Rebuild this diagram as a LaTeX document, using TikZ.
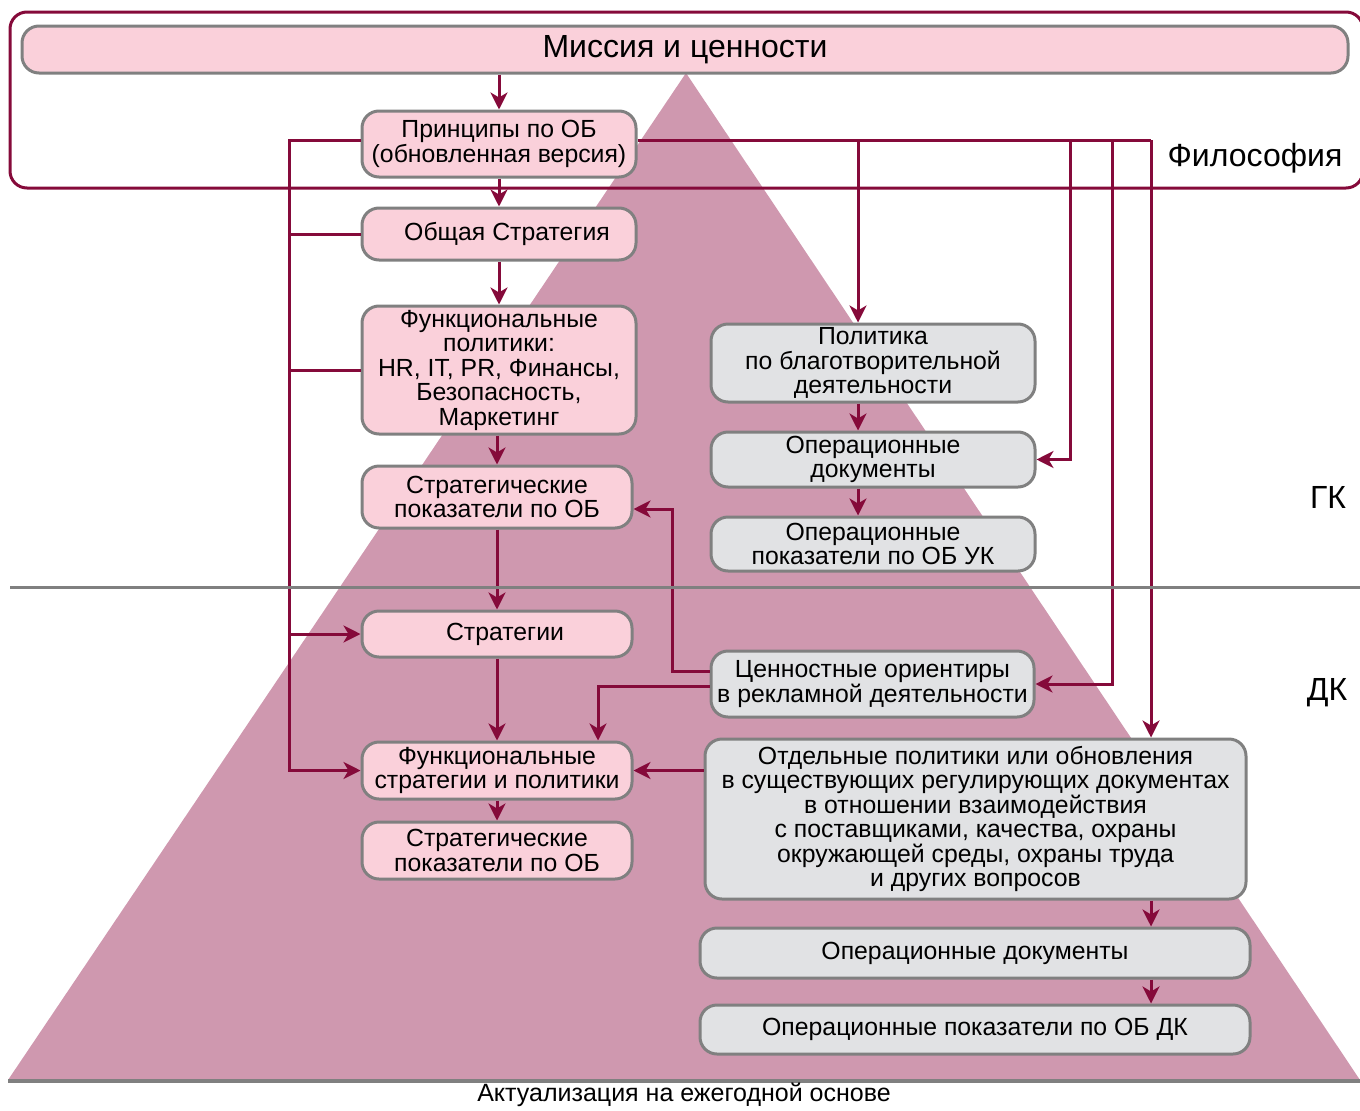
\documentclass[tikz,border=0pt]{standalone}
\usepackage{fontspec}
\setmainfont{Liberation Sans}
\usetikzlibrary{arrows.meta,calc}
\definecolor{crim}{HTML}{850A3A}
\definecolor{pinkfill}{HTML}{FAD0DA}
\definecolor{grayfill}{HTML}{E1E2E4}
\definecolor{bordgray}{HTML}{808080}
\definecolor{trifill}{HTML}{CF98AF}
\tikzset{
  boxbase/.style={draw=bordgray, line width=3pt, rounded corners=17pt, align=center, inner sep=0pt,
    font=\fontsize{24.8}{24.5}\selectfont},
  pinkbox/.style={boxbase, fill=pinkfill},
  graybox/.style={boxbase, fill=grayfill},
  conn/.style={draw=crim, line width=3pt},
  arr/.style={conn, -{Stealth[length=17pt,width=17pt,inset=5pt]}},
  biglabel/.style={font=\fontsize{32}{34}\selectfont, inner sep=0pt},
}
\begin{document}
\begin{tikzpicture}[x=1pt,y=-1pt]
\useasboundingbox (0,0) rectangle (1360,1111);
% pyramid
\fill[trifill] (686,73) -- (1360,1080) -- (8,1080) -- cycle;
\draw[bordgray, line width=4pt] (8,1081) -- (1360,1081);
% philosophy frame
\begin{scope}
\clip (0,0) rectangle (1360,1111);
\draw[crim, line width=3pt, rounded corners=17pt] (10,12) rectangle (1363,188);
\end{scope}
% nodes
\node[pinkbox, minimum width=1326pt, minimum height=47pt, font=\fontsize{32}{34}\selectfont] (mis) at (685,49.5) {Миссия и ценности};
\node[pinkbox, minimum width=274pt, minimum height=66pt] (pri) at (499,144) {Принципы по ОБ\\(обновленная версия)};
\node[pinkbox, minimum width=274pt, minimum height=52pt] (obs) at (499,234) {\hspace*{16pt}Общая Стратегия};
\node[pinkbox, minimum width=274pt, minimum height=128pt] (fun) at (499,370) {Функциональные\\политики:\\HR, IT, PR, Финансы,\\Безопасность,\\Маркетинг};
\node[pinkbox, minimum width=270pt, minimum height=62pt] (sp1) at (497,497) {Стратегические\\показатели по ОБ};
\node[pinkbox, minimum width=270pt, minimum height=46pt] (str) at (497,634) {\hspace*{16pt}Стратегии};
\node[pinkbox, minimum width=270pt, minimum height=57pt] (fsp) at (497,770.5) {Функциональные\\стратегии и политики};
\node[pinkbox, minimum width=270pt, minimum height=57pt] (sp2) at (497,850.5) {Стратегические\\показатели по ОБ};
\node[graybox, minimum width=324pt, minimum height=78pt] (pol) at (873,363) {Политика\\по благотворительной\\деятельности};
\node[graybox, minimum width=324pt, minimum height=55pt] (od1) at (873,459.5) {Операционные\\документы};
\node[graybox, minimum width=324pt, minimum height=54pt] (op1) at (873,544) {Операционные\\показатели по ОБ УК};
\node[graybox, minimum width=323pt, minimum height=66pt] (cen) at (872.5,684) {Ценностные ориентиры\\в рекламной деятельности};
\node[graybox, minimum width=541pt, minimum height=160pt] (otd) at (975.5,819) {Отдельные политики или обновления\\в существующих регулирующих документах\\в отношении взаимодействия\\с поставщиками, качества, охраны\\окружающей среды, охраны труда\\и других вопросов};
\node[graybox, minimum width=550pt, minimum height=50pt] (od2) at (975,953) {Операционные документы};
\node[graybox, minimum width=550pt, minimum height=49pt] (op2) at (975,1029.5) {Операционные показатели по ОБ ДК};
% labels
\node[biglabel] (phil) at (1255,158) {Философия};
\node[biglabel] (gk) at (1328,497) {ГК};
\node[biglabel] (dk) at (1327,693) {ДК};
\node[inner sep=0pt, font=\fontsize{25}{26}\selectfont] (akt) at (684,1095) {Актуализация на ежегодной основе};
% coordinates for columns
\coordinate (trunk) at (289,0);
\coordinate (r1) at (858,0);
\coordinate (r2) at (1070,0);
\coordinate (r3) at (1112,0);
\coordinate (r4) at (1151,0);
% central chain
\draw[arr] (mis.south -| pri.north) -- (pri.north);
\draw[arr] (pri.south) -- (obs.north);
\draw[arr] (obs.south) -- (fun.north);
\draw[arr] (fun.south -| sp1.north) -- (sp1.north);
\draw[arr] (sp1.south) -- (str.north);
\draw[arr] (str.south) -- (fsp.north);
\draw[arr] (fsp.south) -- (sp2.north);
% left trunk
\draw[arr] ($(pri.west)+(0,-4)$) -- ($(pri.west -| trunk)+(0,-4)$) |- (fsp.west);
\draw[conn] (obs.west) -- (obs.west -| trunk);
\draw[conn] (fun.west) -- (fun.west -| trunk);
\draw[arr] (str.west -| trunk) -- (str.west);
% right distribution
\draw[conn] ($(pri.east)+(0,-4)$) -- ($(pri.east -| r4)+(0,-4)$);
\draw[arr] ($(pri.east -| r1)+(0,-4)$) -- (pol.north -| r1);
\draw[arr] ($(pri.east -| r2)+(0,-4)$) |- (od1.east);
\draw[arr] ($(pri.east -| r3)+(0,-4)$) |- (cen.east);
\draw[arr] ($(pri.east -| r4)+(0,-4)$) -- (otd.north -| r4);
% right chains
\draw[arr] (pol.south -| r1) -- (od1.north -| r1);
\draw[arr] (od1.south -| r1) -- (op1.north -| r1);
\draw[arr] (otd.south -| r4) -- (od2.north -| r4);
\draw[arr] (od2.south -| r4) -- (op2.north -| r4);
% value orientations
\draw[arr] ($(cen.west)+(0,-13)$) -| ($(sp1.east)+(39,12)$) -- ($(sp1.east)+(0,12)$);
\draw[arr] ($(cen.west)+(0,2)$) -| ($(fsp.north)+(101,0)$);
\draw[arr] (fsp.east -| otd.west) -- (fsp.east);
% group divider
\draw[bordgray, line width=3pt] (10,587) -- (1360,587);
\end{tikzpicture}
\end{document}
